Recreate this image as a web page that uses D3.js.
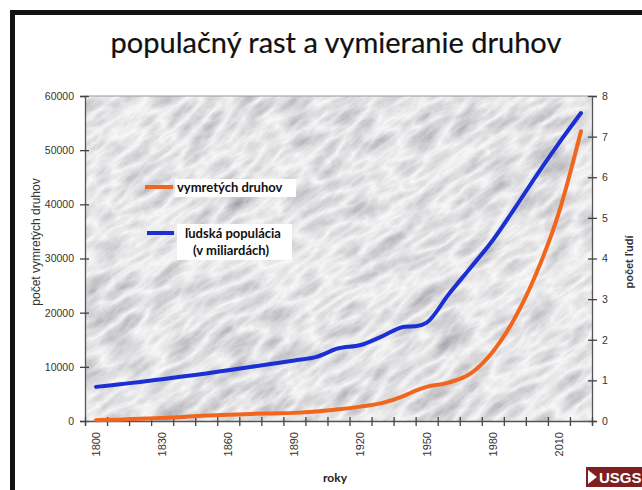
<!DOCTYPE html>
<meta charset="utf-8">
<title>populačný rast a vymieranie druhov</title>
<script src="https://d3js.org/d3.v7.min.js"></script>
<style>
  body { margin: 0; background: #fff; }
  svg { display: block; }
</style>
<body>
<svg id="chart" width="642" height="490"></svg>
</body>
<script>
    // data
    let years = [1800, 1810, 1820, 1830, 1840, 1850, 1860, 1870, 1880, 1890, 1900, 1910,
                 1920, 1930, 1940, 1945, 1950, 1960, 1970, 1980, 1990, 2000, 2010, 2020]
    let extinct = [150, 250, 400, 550, 750, 1000, 1150, 1300, 1400, 1500, 1750, 2150,
                   2650, 3350, 4700, 5600, 6300, 7100, 8800, 12800, 19000, 27500, 38500, 53500]
    let population = [0.84, 0.9, 0.96, 1.03, 1.1, 1.17, 1.25, 1.33, 1.41, 1.49, 1.58, 1.79,
                      1.87, 2.09, 2.32, 2.33, 2.42, 3.12, 3.78, 4.45, 5.24, 6.06, 6.84, 7.58]
    let yearLabels = [1800, 1830, 1860, 1890, 1920, 1950, 1980, 2010]
    let leftTicks = [0, 10000, 20000, 30000, 40000, 50000, 60000]
    let rightTicks = [0, 1, 2, 3, 4, 5, 6, 7, 8]

    let svg = d3.select("#chart")

    // slide frame
    svg.append("rect").attr("x", 10).attr("y", 10).attr("width", 640).attr("height", 5).attr("fill", "#111")
    svg.append("rect").attr("x", 10).attr("y", 10).attr("width", 5).attr("height", 490).attr("fill", "#111")

    svg.append("text")
        .attr("x", 336).attr("y", 53)
        .attr("text-anchor", "middle")
        .style("font-family", "Lato, 'Open Sans', sans-serif")
        .style("font-size", "29px")
        .attr("fill", "#111").attr("stroke", "#111").attr("stroke-width", 0.2)
        .text("populačný rast a vymieranie druhov")

    let plotL = 85, plotR = 592, plotT = 96, plotB = 421

    let x = d3.scaleLinear().domain([1795, 2025]).range([plotL, plotR])
    let yL = d3.scaleLinear().domain([0, 60000]).range([plotB, plotT])
    let yR = d3.scaleLinear().domain([0, 8]).range([plotB, plotT])

    // marble-ish background
    let defs = svg.append("defs")
    let f = defs.append("filter").attr("id", "marble")
        .attr("x", 0).attr("y", 0).attr("width", 1).attr("height", 1)
    f.append("feTurbulence").attr("type", "turbulence")
        .attr("baseFrequency", "0.022 0.06").attr("numOctaves", 5).attr("seed", 11)
    f.append("feColorMatrix").attr("type", "matrix")
        .attr("values", "-0.7 0 0 0 1  -0.7 0 0 0 1  -0.65 0 0 0 1  0 0 0 0 1")
    defs.append("clipPath").attr("id", "plotclip")
        .append("rect").attr("x", plotL).attr("y", plotT).attr("width", plotR - plotL).attr("height", plotB - plotT)

    let bg = svg.append("g").attr("clip-path", "url(#plotclip)")
    bg.append("rect").attr("x", plotL).attr("y", plotT).attr("width", plotR - plotL).attr("height", plotB - plotT)
        .attr("fill", "#e8e8ea")
    bg.append("rect")
        .attr("x", -200).attr("y", -200).attr("width", 1000).attr("height", 900)
        .attr("transform", "rotate(-35 338 258)")
        .attr("filter", "url(#marble)")
        .attr("opacity", 0.9)

    svg.append("line").attr("x1", plotL).attr("x2", plotR).attr("y1", plotT).attr("y2", plotT)
        .attr("stroke", "#9a9a9a")

    let tickFont = "Arial, 'Liberation Sans', sans-serif"

    // left axis
    let gl = svg.append("g").attr("transform", `translate(${plotL},0)`)
        .call(d3.axisLeft(yL).tickValues(leftTicks).tickSize(5).tickPadding(6).tickFormat(d3.format("d")))
    gl.selectAll(".tick line").attr("x1", 4)
    // right axis
    let gr = svg.append("g").attr("transform", `translate(${plotR},0)`)
        .call(d3.axisRight(yR).tickValues(rightTicks).tickSize(5).tickPadding(5))
    gr.selectAll(".tick line").attr("x1", -4)
    // bottom axis: tick marks between decades, labels every 30 years
    let gb = svg.append("g").attr("transform", `translate(0,${plotB})`)
        .call(d3.axisBottom(x).tickValues(d3.range(1795, 2026, 10)).tickSize(5).tickFormat(""))
    gb.selectAll(".tick line").attr("y1", -4)

    svg.selectAll(".domain").attr("stroke", "#555").attr("stroke-width", 1.3)
    svg.selectAll(".tick line").attr("stroke", "#444").attr("stroke-width", 1.3)
    svg.selectAll(".tick text").attr("fill", "#333")
        .style("font-family", tickFont).style("font-size", "10.5px")

    svg.append("g").selectAll("text").data(yearLabels).enter().append("text")
        .attr("transform", d => `translate(${x(d)},432) rotate(-90)`)
        .attr("dy", "0.35em")
        .attr("text-anchor", "end")
        .attr("fill", "#333")
        .style("font-family", tickFont).style("font-size", "11px")
        .text(d => d)

    // axis titles
    svg.append("text")
        .attr("transform", "translate(36,242) rotate(-90)")
        .attr("dy", "0.35em").attr("text-anchor", "middle")
        .attr("fill", "#333")
        .style("font-family", tickFont).style("font-size", "12px")
        .text("počet vymretých druhov")
    svg.append("text")
        .attr("transform", "translate(629,262) rotate(-90)")
        .attr("dy", "0.35em").attr("text-anchor", "middle")
        .attr("fill", "#333")
        .style("font-family", tickFont).style("font-size", "11px").style("font-weight", "bold")
        .text("počet ľudí")
    svg.append("text")
        .attr("x", 335).attr("y", 482)
        .attr("text-anchor", "middle")
        .attr("fill", "#222")
        .style("font-family", "Lato, 'Open Sans', sans-serif").style("font-size", "12px").style("font-weight", "bold")
        .text("roky")

    // lines
    let orange = "#f0661e", blue = "#1c2fd2"
    let lineL = d3.line().x((d, i) => x(years[i])).y(d => yL(d)).curve(d3.curveMonotoneX)
    let lineR = d3.line().x((d, i) => x(years[i])).y(d => yR(d)).curve(d3.curveMonotoneX)

    svg.append("path").datum(population)
        .attr("d", lineR)
        .attr("fill", "none").attr("stroke", blue).attr("stroke-width", 4)
        .attr("stroke-linecap", "round")
    svg.append("path").datum(extinct)
        .attr("d", lineL)
        .attr("fill", "none").attr("stroke", orange).attr("stroke-width", 4)
        .attr("stroke-linecap", "round")

    // legend
    let legendFont = "Lato, 'Open Sans', sans-serif"
    let lg = svg.append("g")
    lg.append("rect").attr("x", 175).attr("y", 179).attr("width", 121).attr("height", 18).attr("fill", "#fff")
    lg.append("rect").attr("x", 177).attr("y", 224).attr("width", 115).attr("height", 36).attr("fill", "#fff")
    lg.append("line").attr("x1", 145).attr("x2", 173).attr("y1", 187).attr("y2", 187)
        .attr("stroke", orange).attr("stroke-width", 4)
    lg.append("line").attr("x1", 147).attr("x2", 174).attr("y1", 233).attr("y2", 233)
        .attr("stroke", blue).attr("stroke-width", 4)
    lg.append("text").attr("x", 177).attr("y", 192)
        .style("font-family", legendFont).style("font-size", "13px").style("font-weight", "bold")
        .attr("fill", "#111")
        .text("vymretých druhov")
    lg.append("text").attr("x", 233).attr("y", 238).attr("text-anchor", "middle")
        .style("font-family", legendFont).style("font-size", "13px").style("font-weight", "bold")
        .attr("fill", "#111")
        .text("ľudská populácia")
    lg.append("text").attr("x", 231).attr("y", 255).attr("text-anchor", "middle")
        .style("font-family", legendFont).style("font-size", "13px").style("font-weight", "bold")
        .attr("fill", "#111")
        .text("(v miliardách)")

    // USGS logo, bottom right
    let logo = svg.append("g")
    logo.append("rect").attr("x", 586).attr("y", 467).attr("width", 56).attr("height", 20).attr("fill", "#7e1f22")
    logo.append("path").attr("d", "M588,470 L597,477 L588,484 Z").attr("fill", "#fff")
    logo.append("text").attr("x", 599).attr("y", 483)
        .style("font-family", "'Liberation Sans Narrow', Arial, sans-serif").style("font-size", "15px").style("font-weight", "bold")
        .attr("fill", "#fff")
        .text("USGS")
</script>
</html>
